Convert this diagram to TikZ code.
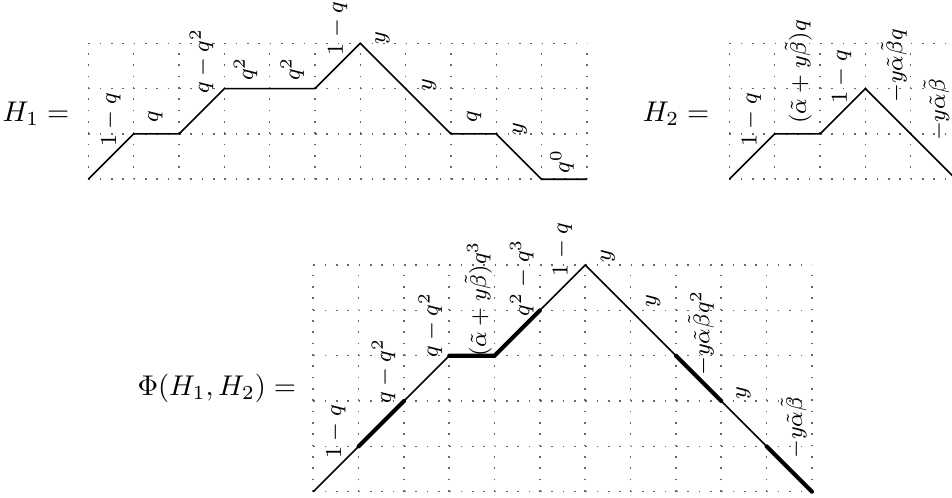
\documentclass[tikz,border=0pt]{standalone}
\usepackage{tikz}

\begin{document}
\begin{tikzpicture}[x=15.9pt,y=15.9pt,
    dotgrid/.style={black!60,line width=0.55pt,step=1,dash pattern=on 0.55pt off 3.425pt},
    walk/.style={line width=0.55pt},
    heavy/.style={line width=1.45pt,line cap=round},
    lbl/.style={rotate=90,font=\footnotesize,inner sep=0pt},
    eqn/.style={anchor=base east,inner sep=0pt}]
  \useasboundingbox (-1.948,-7.031) rectangle (19.053,3.955);
  % H_1
  \draw[dotgrid] (0,0) grid (11,3);
  \foreach \h [count=\i from 0] in {0,1,1,2,2,2,3,2,1,1,0,0}
    \coordinate (a\i) at (\i,\h);
  \draw[walk] (a0)--(a1)--(a2)--(a3)--(a4)--(a5)--(a6)--(a7)--(a8)--(a9)--(a10)--(a11);
  \node[eqn] (hone) at (-0.406,1.27) {$H_1 =$};
  \node[lbl] (la1) at (0.50,1.31) {$1-q$};
  \node[lbl] (la2) at (1.48,1.385) {$q$};
  \node[lbl] (la3) at (2.50,2.61) {$q-q^2$};
  \node[lbl] (la4) at (3.47,2.43) {$q^2$};
  \node[lbl] (la5) at (4.50,2.43) {$q^2$};
  \node[lbl] (la6) at (5.50,3.33) {$1-q$};
  \node[lbl] (la7) at (6.49,3.11) {$y$};
  \node[lbl] (la8) at (7.52,2.08) {$y$};
  \node[lbl] (la9) at (8.51,1.38) {$q$};
  \node[lbl] (la10) at (9.52,1.105) {$y$};
  \node[lbl] (la11) at (10.45,0.39) {$q^0$};
  % H_2
  \begin{scope}[shift={(14.141,0)}]
    \draw[dotgrid] (0,0) grid (6,3);
    \foreach \h [count=\i from 0] in {0,1,1,2,1,0}
      \coordinate (b\i) at (\i,\h);
    \draw[walk] (b0)--(b1)--(b2)--(b3)--(b4)--(b5);
    \node[eqn] (htwo) at (-0.428,1.27) {$H_2 =$};
    \node[lbl] (lb1) at (0.49,1.31) {$1-q$};
    \node[lbl] (lb2) at (1.52,2.37) {$(\tilde\alpha+y\tilde\beta)q$};
    \node[lbl] (lb3) at (2.48,2.26) {$1-q$};
    \node[lbl] (lb4) at (3.63,2.50) {$-y\tilde\alpha\tilde\beta q$};
    \node[lbl] (lb5) at (4.57,1.53) {$-y\tilde\alpha\tilde\beta$};
  \end{scope}
  % Phi(H_1,H_2)
  \begin{scope}[shift={(4.963,-6.892)}]
    \draw[dotgrid] (0,0) grid (11,5);
    \foreach \h [count=\i from 0] in {0,1,2,3,3,4,5,4,3,2,1,0}
      \coordinate (p\i) at (\i,\h);
    \draw[walk] (p0)--(p1)--(p2)--(p3)--(p4)--(p5)--(p6)--(p7)--(p8)--(p9)--(p10)--(p11);
    % merged steps
    \draw[heavy] (p1)--(p2);
    \draw[heavy] (p3)--(p4)--(p5);
    \draw[heavy] (p8)--(p9);
    \draw[heavy] (p10)--(p11);
    \node[eqn] (hphi) at (-0.368,2.13) {$\Phi(H_1, H_2) =$};
    \node[lbl] (lp1) at (0.50,1.32) {$1-q$};
    \node[lbl] (lp2) at (1.55,2.66) {$q-q^2$};
    \node[lbl] (lp3) at (2.58,3.68) {$q-q^2$};
    \node[lbl] (lp4) at (3.64,4.25) {$(\tilde\alpha+y\tilde\beta)q^3$};
    \node[lbl] (lp5) at (4.60,4.72) {$q^2-q^3$};
    \node[lbl] (lp6) at (5.50,5.34) {$1-q$};
    \node[lbl] (lp7) at (6.50,5.19) {$y$};
    \node[lbl] (lp8) at (7.50,4.20) {$y$};
    \node[lbl] (lp9) at (8.55,3.50) {$-y\tilde\alpha\tilde\beta q^2$};
    \node[lbl] (lp10) at (9.49,2.18) {$y$};
    \node[lbl] (lp11) at (10.60,1.41) {$-y\tilde\alpha\tilde\beta$};
  \end{scope}
\end{tikzpicture}
\end{document}
